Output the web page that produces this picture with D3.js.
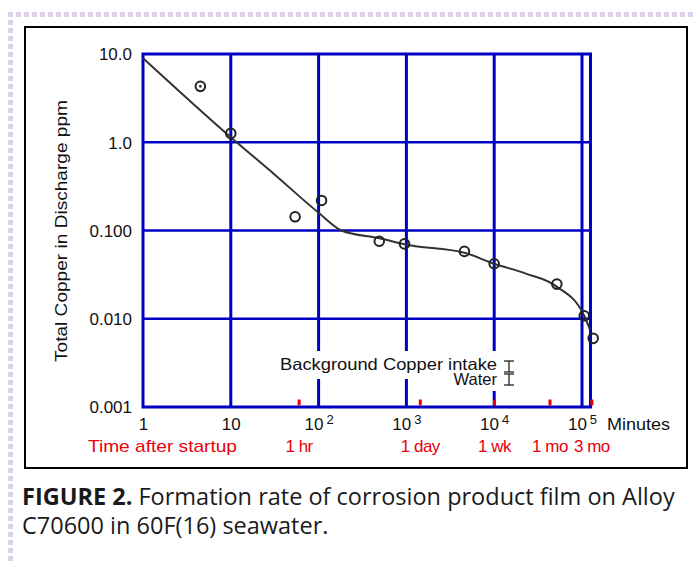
<!DOCTYPE html>
<html>
<head>
<meta charset="utf-8">
<script src="https://cdn.jsdelivr.net/npm/d3@7"></script>
<style>
  body { margin: 0; background: #fff; }
  svg { display: block; }
  .lbl { font-family: "Liberation Sans", Arial, sans-serif; fill: #111; }
  .red { fill: #e8000b; }
</style>
</head>
<body>
<svg id="vis" width="696" height="564"></svg>
<script>
// measured samples: time after startup (minutes) and total copper (ppm)
var sampleTime = [4.5, 10, 54, 108, 491, 952, 4580, 10000, 51700, 106000, 134000]
var sampleCopper = [4.3, 1.26, 0.143, 0.219, 0.0755, 0.0705, 0.058, 0.042, 0.0247, 0.0108, 0.006]

// hand drawn fit line through the samples
var fitTime = [1, 10, 31, 100, 182, 491, 1000, 4580, 10000, 22900, 51000, 106000, 123000]
var fitCopper = [9.0, 1.14, 0.437, 0.159, 0.1, 0.0815, 0.069, 0.056, 0.042, 0.0325, 0.0233, 0.0108, 0.0076]

// axes
var xTicks = [1, 10, 100, 1000, 10000, 100000]
var xTickBase = ["1", "10", "10", "10", "10", "10"]
var xTickExp = ["", "", "2", "3", "4", "5"]
var yTicks = [10, 1, 0.1, 0.01, 0.001]
var yTickLabels = ["10.0", "1.0", "0.100", "0.010", "0.001"]
var xGrid = [10, 100, 1000, 10000, 100000]
var yGrid = [1, 0.1, 0.01]

// time markers in minutes
var markTime = [60, 1440, 10080, 43200, 129600]
var markLabels = ["1 hr", "1 day", "1 wk", "1 mo", "3 mo"]

var xMin = 1, xMax = 125000
var yMin = 0.001, yMax = 10

var blue = "#0000c4"

var svg = d3.select("#vis")

// dotted page border
svg.append("line")
    .attr("x1", 8).attr("x2", 696).attr("y1", 14.5).attr("y2", 14.5)
    .style("stroke", "#ddd0e9").style("stroke-width", 5).style("stroke-dasharray", "5 3")
svg.append("line")
    .attr("x1", 10.5).attr("x2", 10.5).attr("y1", 20).attr("y2", 564)
    .style("stroke", "#ddd0e9").style("stroke-width", 5).style("stroke-dasharray", "5 3")

// figure frame
svg.append("rect")
    .attr("x", 25).attr("y", 27).attr("width", 662).attr("height", 441)
    .style("fill", "#fff").style("stroke", "#000").style("stroke-width", 2)

var x = d3.scaleLog().domain([1, 100000]).range([143, 582])
var y = d3.scaleLog().domain([yMin, yMax]).range([407, 54])

var plot = svg.append("g").attr("id", "plot")

// grid
plot.selectAll("line.vgrid")
    .data(xGrid)
    .enter()
    .append("line")
    .attr("class", "vgrid")
    .attr("x1", function(d) { return x(d) })
    .attr("x2", function(d) { return x(d) })
    .attr("y1", y(yMax)).attr("y2", y(yMin))
    .style("stroke", blue).style("stroke-width", 3)

plot.selectAll("line.hgrid")
    .data(yGrid)
    .enter()
    .append("line")
    .attr("class", "hgrid")
    .attr("x1", x(xMin)).attr("x2", x(xMax))
    .attr("y1", function(d) { return y(d) })
    .attr("y2", function(d) { return y(d) })
    .style("stroke", blue).style("stroke-width", 2.5)

plot.append("rect")
    .attr("x", x(xMin)).attr("y", y(yMax))
    .attr("width", x(xMax) - x(xMin)).attr("height", y(yMin) - y(yMax))
    .style("fill", "none").style("stroke", blue).style("stroke-width", 3)

// red time markers on the bottom axis
plot.selectAll("rect.mark")
    .data(markTime)
    .enter()
    .append("rect")
    .attr("class", "mark")
    .attr("x", function(d) { return x(d) - 1.5 })
    .attr("y", y(yMin) - 7.5)
    .attr("width", 3).attr("height", 6)
    .style("fill", "#ee0000")

// background copper note (white box breaks the grid)
plot.append("rect")
    .attr("x", 276).attr("y", 351).attr("width", 246).attr("height", 28)
    .style("fill", "#fff")
plot.append("rect")
    .attr("x", 440).attr("y", 351).attr("width", 82).attr("height", 40)
    .style("fill", "#fff")

svg.append("text").attr("class", "lbl")
    .attr("x", 497).attr("y", 370)
    .attr("text-anchor", "end")
    .attr("textLength", 217).attr("lengthAdjust", "spacingAndGlyphs")
    .style("font-size", "16.5px")
    .text("Background  Copper intake")
svg.append("text").attr("class", "lbl")
    .attr("x", 497).attr("y", 385)
    .attr("text-anchor", "end")
    .style("font-size", "16.5px")
    .text("Water")

var ibar = svg.append("g").style("stroke", "#222").style("stroke-width", 1.3)
;[[361, 372], [374, 385]].forEach(function(b) {
    ibar.append("line").attr("x1", 509).attr("x2", 509).attr("y1", b[0]).attr("y2", b[1])
    ibar.append("line").attr("x1", 504).attr("x2", 514).attr("y1", b[0]).attr("y2", b[0])
    ibar.append("line").attr("x1", 504).attr("x2", 514).attr("y1", b[1]).attr("y2", b[1])
})

// fit line
var line = d3.line()
    .x(function(d) { return x(d[0]) })
    .y(function(d) { return y(d[1]) })
    .curve(d3.curveMonotoneX)

plot.append("path")
    .datum(fitTime.map(function(t, i) { return [t, fitCopper[i]] }))
    .attr("d", line)
    .style("fill", "none").style("stroke", "#333").style("stroke-width", 2)

// samples
var pts = plot.selectAll("g.pt")
    .data(sampleTime.map(function(t, i) { return [t, sampleCopper[i]] }))
    .enter()
    .append("g")
    .attr("class", "pt")
    .attr("transform", function(d) { return "translate(" + x(d[0]) + "," + y(d[1]) + ")" })
pts.append("circle")
    .attr("r", 4.8)
    .style("fill", "none").style("stroke", "#222").style("stroke-width", 2)
pts.filter(function(d, i) { return i == 0 })
    .append("circle")
    .attr("r", 1.3)
    .style("fill", "#222")

// y axis
var yAxis = d3.axisLeft(y)
    .tickValues(yTicks)
    .tickSize(0)
    .tickPadding(11)
    .tickFormat(function(d, i) { return yTickLabels[i] })

svg.append("g")
    .attr("transform", "translate(" + x(xMin) + ",0)")
    .call(yAxis)
    .call(function(g) { g.select(".domain").remove() })
    .selectAll("text")
    .attr("class", "lbl")
    .attr("dy", "0.35em")
    .style("font-size", "17px")

svg.append("text").attr("class", "lbl")
    .attr("transform", "translate(67,231) rotate(-90)")
    .attr("text-anchor", "middle")
    .attr("textLength", 262).attr("lengthAdjust", "spacingAndGlyphs")
    .style("font-size", "17px")
    .text("Total  Copper  in  Discharge  ppm")

// x axis
var xAxis = d3.axisBottom(x)
    .tickValues(xTicks)
    .tickSize(0)
    .tickPadding(0)
    .tickFormat(function(d, i) { return "" })

var xg = svg.append("g")
    .attr("transform", "translate(0," + y(yMin) + ")")
    .call(xAxis)
xg.select(".domain").remove()
xg.selectAll(".tick text").each(function(d, i) {
    var t = d3.select(this)
        .attr("class", "lbl")
        .attr("y", 23).attr("dy", 0)
        .attr("text-anchor", "middle")
        .style("font-size", "17px")
    t.append("tspan").text(xTickBase[i])
    if (xTickExp[i]) {
        t.append("tspan").attr("dx", 3).attr("dy", -6).style("font-size", "13px").text(xTickExp[i])
    }
})

svg.append("text").attr("class", "lbl")
    .attr("x", 607).attr("y", 430)
    .attr("textLength", 63).attr("lengthAdjust", "spacingAndGlyphs")
    .style("font-size", "17px")
    .text("Minutes")

// red time labels
svg.append("text").attr("class", "lbl red")
    .attr("x", 88).attr("y", 452)
    .attr("textLength", 149).attr("lengthAdjust", "spacingAndGlyphs")
    .style("font-size", "17px")
    .text("Time after startup")

svg.selectAll("text.mlab")
    .data(markTime)
    .enter()
    .append("text")
    .attr("class", "lbl red mlab")
    .attr("x", function(d) { return x(d) })
    .attr("y", 452)
    .attr("text-anchor", "middle")
    .style("font-size", "17px")
    .style("letter-spacing", "-0.5px")
    .text(function(d, i) { return markLabels[i] })

// caption
var cap = svg.append("text")
    .attr("x", 22).attr("y", 505)
    .style("font-family", "'Open Sans', sans-serif")
    .style("font-size", "23.5px")
    .style("fill", "#1a1a1a")
cap.append("tspan").style("font-weight", "bold").text("FIGURE 2.")
cap.append("tspan").text(" Formation rate of corrosion product film on Alloy")
svg.append("text")
    .attr("x", 22).attr("y", 534)
    .style("font-family", "'Open Sans', sans-serif")
    .style("font-size", "23.5px")
    .style("fill", "#1a1a1a")
    .text("C70600 in 60F(16) seawater.")
</script>
</body>
</html>
